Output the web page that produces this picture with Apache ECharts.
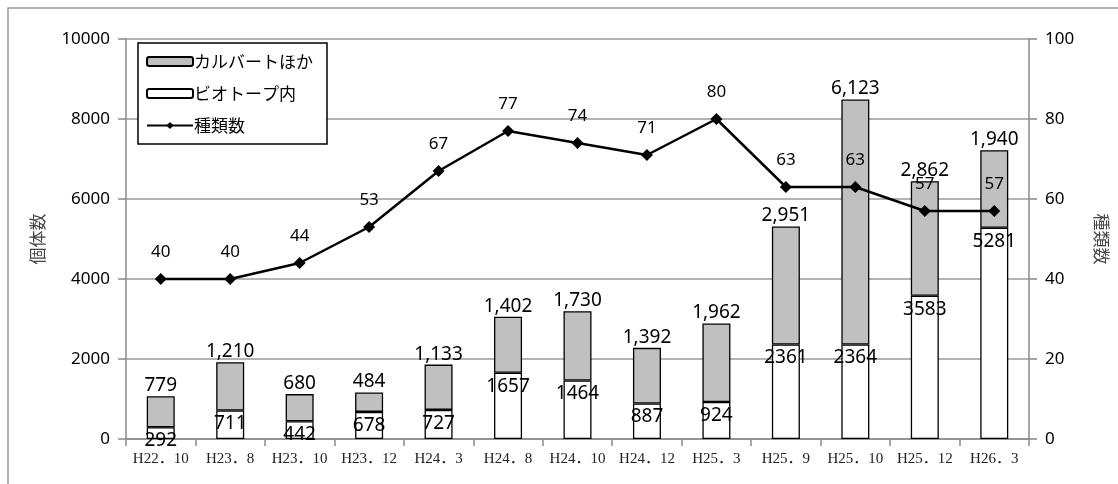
<!DOCTYPE html>
<html>
<head>
<meta charset="utf-8">
<script src="https://cdn.jsdelivr.net/npm/echarts@6/dist/echarts.min.js"></script>
<style>
html, body { margin: 0; padding: 0; background: #fff; }
#chart { width: 1118px; height: 484px; }
</style>
</head>
<body>
<div id="chart"></div>
<script>
var categories = ['H22．10', 'H23．8', 'H23．10', 'H23．12', 'H24．3', 'H24．8', 'H24．10', 'H24．12', 'H25．3', 'H25．9', 'H25．10', 'H25．12', 'H26．3'];
var biotope = [292, 711, 442, 678, 727, 1657, 1464, 887, 924, 2361, 2364, 3583, 5281];
var culvert = [779, 1210, 680, 484, 1133, 1402, 1730, 1392, 1962, 2951, 6123, 2862, 1940];
var species = [40, 40, 44, 53, 67, 77, 74, 71, 80, 63, 63, 57, 57];
var leftTicks = [0, 2000, 4000, 6000, 8000, 10000];
var rightTicks = [0, 20, 40, 60, 80, 100];

var numFont = 'Noto Sans, Liberation Sans, Noto Sans CJK JP, sans-serif';
var jpFont = 'Noto Sans CJK JP, sans-serif';

var chart = echarts.init(document.getElementById('chart'));
var option = {
	backgroundColor: '#fff',
	animation: false,
	graphic: [{
		type: 'rect',
		shape: { x: 8, y: 8, width: 1200, height: 600 },
		style: { fill: 'none', stroke: '#9a9a9a', lineWidth: 1.5 },
		silent: true
	}],
	grid: { left: 126, right: 87, top: 39, bottom: 45 },
	legend: {
		orient: 'vertical',
		left: 138,
		top: 43,
		padding: [10, 14, 10, 8],
		itemGap: 15,
		itemWidth: 46,
		itemHeight: 9,
		backgroundColor: '#fff',
		borderColor: '#000',
		borderWidth: 1.5,
		borderRadius: 0,
		data: ['カルバートほか', 'ビオトープ内', '種類数'],
		textStyle: { fontFamily: jpFont, fontSize: 17, color: '#000', padding: [0, 0, 0, -4] }
	},
	xAxis: {
		type: 'category',
		data: categories,
		axisLine: { lineStyle: { color: '#8a8a8a', width: 1.5 } },
		axisTick: { show: true, length: 7, lineStyle: { color: '#8a8a8a', width: 1.5 } },
		axisLabel: { interval: 0, fontFamily: 'Liberation Serif, DejaVu Serif, Noto Sans CJK JP, serif', fontSize: 15, color: '#222', margin: 13 }
	},
	yAxis: [{
		type: 'value',
		min: leftTicks[0],
		max: leftTicks[leftTicks.length - 1],
		interval: 2000,
		name: '個体数',
		nameLocation: 'middle',
		nameGap: 80,
		nameRotate: 90,
		nameTextStyle: { fontFamily: jpFont, fontSize: 17, color: '#444' },
		axisLine: { show: true, lineStyle: { color: '#8a8a8a', width: 1.5 } },
		axisTick: { show: true, length: 8, lineStyle: { color: '#8a8a8a', width: 1.5 } },
		axisLabel: { fontFamily: numFont, fontSize: 17, color: '#000', margin: 16, formatter: function (v) { return String(v); } },
		splitLine: { lineStyle: { color: '#9a9a9a', width: 1.5 } }
	}, {
		type: 'value',
		min: rightTicks[0],
		max: rightTicks[rightTicks.length - 1],
		interval: 20,
		name: '種類数',
		nameLocation: 'middle',
		nameGap: 64,
		nameRotate: -90,
		nameTextStyle: { fontFamily: jpFont, fontSize: 17, color: '#444' },
		axisLine: { show: true, lineStyle: { color: '#8a8a8a', width: 1.5 } },
		axisTick: { show: true, length: 8, lineStyle: { color: '#8a8a8a', width: 1.5 } },
		axisLabel: { fontFamily: numFont, fontSize: 17, color: '#000', margin: 16 },
		splitLine: { show: false }
	}],
	series: [{
		name: 'ビオトープ内',
		type: 'bar',
		stack: 'total',
		barWidth: 28,
		data: biotope,
		itemStyle: { color: '#fff', borderColor: '#000', borderWidth: 1.3 },
		label: {
			show: true,
			position: 'insideTop',
			distance: 4,
			fontFamily: numFont,
			fontSize: 19,
			color: '#000'
		}
	}, {
		name: 'カルバートほか',
		type: 'bar',
		stack: 'total',
		barWidth: 28,
		data: culvert,
		itemStyle: { color: '#c0c0c0', borderColor: '#000', borderWidth: 1.3 },
		label: {
			show: true,
			position: 'top',
			distance: 1,
			fontFamily: numFont,
			fontSize: 19,
			color: '#000',
			formatter: function (p) { return p.value.toLocaleString('en-US'); }
		}
	}, {
		name: '種類数',
		type: 'line',
		yAxisIndex: 1,
		data: species,
		z: 5,
		symbol: 'diamond',
		symbolSize: 12,
		lineStyle: { color: '#000', width: 2.5 },
		itemStyle: { color: '#000' },
		label: {
			show: true,
			position: 'top',
			distance: 12,
			fontFamily: numFont,
			fontSize: 17,
			color: '#000'
		}
	}]
};
chart.setOption(option);
</script>
</body>
</html>
